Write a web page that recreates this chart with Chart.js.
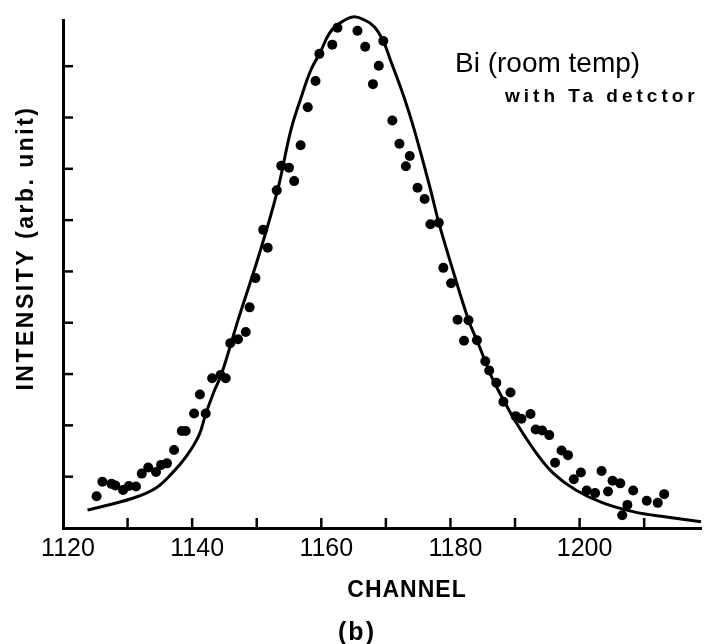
<!DOCTYPE html>
<html lang="en">
<head>
    <meta charset="UTF-8">
    <title>Bi (room temp) with Ta detctor</title>
    <script src="https://cdn.jsdelivr.net/npm/chart.js@4.4.0/dist/chart.umd.min.js"></script>
    <style>
        body {
            margin: 0;
            background: #ffffff;
            overflow: hidden;
        }
        .chart-container {
            width: 706px;
            height: 644px;
        }
    </style>
</head>
<body>
    <div class="chart-container">
        <canvas id="peakChart"></canvas>
    </div>

    <script>
        const channels = [
            1125.2, 1126.1, 1127.5, 1128.1, 1129.3, 1130.2, 1131.3, 1132.2, 1133.2, 1134.4,
            1135.2, 1136.1, 1137.2, 1138.4, 1139.0, 1140.3, 1141.2, 1142.1, 1143.1, 1144.4,
            1145.2, 1145.9, 1147.1, 1148.3, 1148.9, 1149.8, 1151.0, 1151.7, 1153.1, 1153.8,
            1155.0, 1155.8, 1156.8, 1157.9, 1159.1, 1159.7, 1161.7, 1162.5, 1164.1, 1165.6,
            1166.8, 1168.0, 1168.9, 1169.6, 1171.0, 1172.1, 1173.1, 1173.7, 1174.9, 1176.0,
            1176.9, 1178.2, 1178.9, 1180.1, 1181.1, 1182.1, 1182.8, 1184.1, 1185.4, 1186.0,
            1187.1, 1188.2, 1189.3, 1190.1, 1191.0, 1192.4, 1193.2, 1194.2, 1195.3, 1196.2,
            1197.2, 1198.2, 1199.1, 1200.2, 1201.1, 1202.4, 1203.4, 1204.4, 1205.1, 1206.3,
            1206.6, 1207.4, 1208.3, 1210.4, 1212.1, 1213.1
        ];
        const counts = [
            0.62, 0.90, 0.86, 0.83, 0.74, 0.82, 0.81, 1.06, 1.18, 1.09,
            1.23, 1.26, 1.52, 1.89, 1.89, 2.23, 2.60, 2.23, 2.92, 2.98,
            2.92, 3.60, 3.68, 3.82, 4.30, 4.87, 5.81, 5.46, 6.58, 7.06,
            7.02, 6.76, 7.46, 8.20, 8.71, 9.24, 9.42, 9.75, 10.03, 9.69,
            9.38, 8.65, 9.01, 9.49, 7.94, 7.49, 7.05, 7.25, 6.63, 6.41,
            5.92, 5.95, 5.07, 4.77, 4.06, 3.65, 4.05, 3.66, 3.25, 3.07,
            2.83, 2.46, 2.64, 2.18, 2.13, 2.22, 1.92, 1.90, 1.81, 1.27,
            1.51, 1.42, 0.95, 1.08, 0.73, 0.68, 1.11, 0.71, 0.92, 0.87,
            0.25, 0.45, 0.73, 0.53, 0.49, 0.66
        ];

        // solid fitted curve
        const fitChannels = [
            1123.8, 1130.8, 1134.4, 1136.9, 1139.0, 1141.0, 1142.1, 1143.3, 1144.6, 1147.2,
            1150.3, 1153.2, 1155.3, 1156.9, 1158.4, 1159.8, 1161.3, 1162.9, 1164.9, 1166.7,
            1168.2, 1169.6, 1170.7, 1172.8, 1174.4, 1176.8, 1178.2, 1179.9, 1182.8, 1184.1,
            1186.4, 1188.2, 1190.2, 1193.3, 1195.9, 1199.4, 1203.6, 1208.6, 1213.7, 1218.8
        ];
        const fitCounts = [
            0.35, 0.58, 0.78, 1.07, 1.38, 1.79, 2.22, 2.63, 3.02, 4.09,
            5.30, 6.57, 7.76, 8.40, 8.93, 9.26, 9.65, 9.84, 9.96, 9.90,
            9.77, 9.49, 9.12, 8.40, 7.76, 6.65, 5.95, 5.22, 4.05, 3.66,
            2.94, 2.50, 2.05, 1.46, 1.07, 0.74, 0.49, 0.31, 0.21, 0.12
        ];

        const xTickLabels = [1120, 1140, 1160, 1180, 1200];
        const xMinorTicks = [1130, 1140, 1150, 1160, 1170, 1180, 1190, 1200, 1210];
        const yMinorTicks = [1, 2, 3, 4, 5, 6, 7, 8, 9];

        const toPoints = (xs, ys) => xs.map((x, i) => ({x: x, y: ys[i]}));

        // inward tick marks + the text that sits around the plot
        const decorations = {
            id: 'decorations',
            afterDraw(chart) {
                const ctx = chart.ctx;
                const xs = chart.scales.x;
                const ys = chart.scales.y;
                const area = chart.chartArea;

                ctx.save();
                ctx.strokeStyle = '#000';
                ctx.lineWidth = 2.5;
                xMinorTicks.forEach(v => {
                    const px = xs.getPixelForValue(v);
                    ctx.beginPath();
                    ctx.moveTo(px, area.bottom);
                    ctx.lineTo(px, area.bottom - 10);
                    ctx.stroke();
                });
                yMinorTicks.forEach(v => {
                    const py = ys.getPixelForValue(v);
                    ctx.beginPath();
                    ctx.moveTo(area.left, py);
                    ctx.lineTo(area.left + 10, py);
                    ctx.stroke();
                });

                ctx.fillStyle = '#000';
                ctx.textBaseline = 'alphabetic';

                // y axis title
                ctx.save();
                ctx.translate(33, 248);
                ctx.rotate(-Math.PI / 2);
                ctx.textAlign = 'center';
                ctx.font = 'bold 23px "Liberation Sans", Arial, sans-serif';
                ctx.letterSpacing = '2.5px';
                ctx.fillText('INTENSITY (arb. unit)', 0, 0);
                ctx.restore();

                ctx.textAlign = 'left';
                ctx.font = '28px "Liberation Sans", Arial, sans-serif';
                ctx.letterSpacing = '0px';
                ctx.fillText('Bi (room temp)', 455, 72);

                ctx.font = 'bold 19px "Liberation Sans", Arial, sans-serif';
                ctx.letterSpacing = '4px';
                ctx.fillText('with Ta detctor', 505, 102);

                ctx.textAlign = 'center';
                ctx.font = 'bold 23px "Liberation Sans", Arial, sans-serif';
                ctx.letterSpacing = '1px';
                ctx.fillText('CHANNEL', 407, 597);

                ctx.font = 'bold 25px "Liberation Sans", Arial, sans-serif';
                ctx.letterSpacing = '2px';
                ctx.fillText('(b)', 357, 640);
                ctx.restore();
            }
        };

        const ctx = document.getElementById('peakChart').getContext('2d');

        new Chart(ctx, {
            type: 'scatter',
            data: {
                datasets: [
                    {
                        label: 'fit',
                        data: toPoints(fitChannels, fitCounts),
                        showLine: true,
                        borderColor: '#000',
                        borderWidth: 3,
                        pointRadius: 0,
                        tension: 0.4,
                        clip: false
                    },
                    {
                        label: 'data',
                        data: toPoints(channels, counts),
                        backgroundColor: '#000',
                        borderWidth: 0,
                        pointRadius: 5,
                        clip: false
                    }
                ]
            },
            options: {
                responsive: true,
                maintainAspectRatio: false,
                animation: false,
                events: [],
                layout: {
                    padding: {top: 20, right: 0, bottom: 0, left: 0}
                },
                plugins: {
                    legend: {display: false},
                    tooltip: {enabled: false}
                },
                scales: {
                    x: {
                        type: 'linear',
                        min: 1120,
                        max: 1218.8,
                        afterBuildTicks: scale => {
                            scale.ticks = xTickLabels.map(v => ({value: v}));
                        },
                        afterFit: scale => {
                            scale.height = 116;
                        },
                        ticks: {
                            color: '#000',
                            padding: 6,
                            labelOffset: 5,
                            maxRotation: 0,
                            callback: v => String(v),
                            font: {
                                family: '"Liberation Sans", Arial, sans-serif',
                                size: 25
                            }
                        },
                        grid: {display: false, drawTicks: false},
                        border: {display: true, color: '#000', width: 3}
                    },
                    y: {
                        type: 'linear',
                        min: 0,
                        max: 9.9,
                        afterFit: scale => {
                            scale.width = 63;
                        },
                        ticks: {display: false},
                        grid: {display: false, drawTicks: false},
                        border: {display: true, color: '#000', width: 3}
                    }
                }
            },
            plugins: [decorations]
        });
    </script>
</body>
</html>
